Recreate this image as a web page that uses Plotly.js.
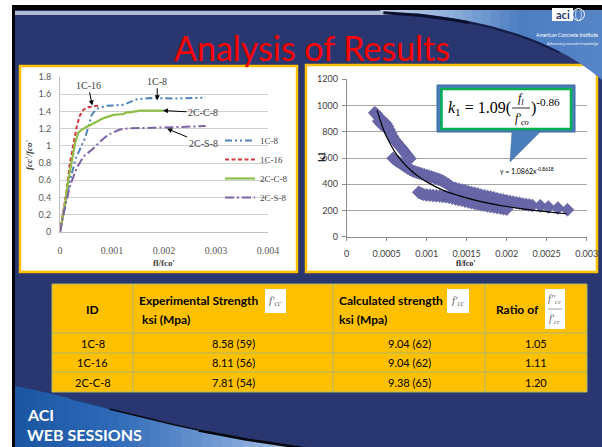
<!DOCTYPE html>
<html><head><meta charset="utf-8">
<script src="https://cdn.plot.ly/plotly-3.0.1.min.js"></script>
<style>html,body{margin:0;padding:0;background:#fff;}#chart{width:602px;height:447px;}</style>
</head><body><div id="chart"></div>
<script>
// ---------- Left chart: fcc'/fco' vs fl/fco' ----------
const seriesNames = ['1C-8', '1C-16', '2C-C-8', '2C-S-8'];
const c1C8x  = [0, 0.0001, 0.0002, 0.0003, 0.0004, 0.00048, 0.000545, 0.00061, 0.0007, 0.0009, 0.00122, 0.00131, 0.00147, 0.00173, 0.0022, 0.0028];
const c1C8y  = [0, 0.32, 0.62, 0.85, 0.98, 1.09, 1.22, 1.36, 1.43, 1.465, 1.477, 1.50, 1.54, 1.555, 1.55, 1.56];
const c1C16x = [0, 0.00006, 0.00013, 0.00019, 0.00026, 0.00032, 0.00038, 0.00045, 0.00054, 0.00064, 0.00078];
const c1C16y = [0, 0.22, 0.49, 0.80, 1.03, 1.22, 1.35, 1.42, 1.45, 1.46, 1.47];
const c2CC8x = [0, 0.0001, 0.00016, 0.000225, 0.00029, 0.00035, 0.00042, 0.00051, 0.00064, 0.00083, 0.00103, 0.00122, 0.00128, 0.00134, 0.00154, 0.00199];
const c2CC8y = [0, 0.34, 0.60, 0.84, 1.03, 1.15, 1.19, 1.22, 1.26, 1.32, 1.36, 1.37, 1.39, 1.39, 1.41, 1.41];
const c2CS8x = [0, 0.0001, 0.0002, 0.00032, 0.00045, 0.00064, 0.00077, 0.00093, 0.00115, 0.00135, 0.0018, 0.0023, 0.0028];
const c2CS8y = [0, 0.30, 0.55, 0.74, 0.875, 0.97, 1.05, 1.13, 1.19, 1.205, 1.21, 1.22, 1.23];
const leftXTickVals = [0, 0.001, 0.002, 0.003, 0.004];
const leftXTickText = ['0', '0.001', '0.002', '0.003', '0.004'];
const leftYTickVals = [0, 0.2, 0.4, 0.6, 0.8, 1, 1.2, 1.4, 1.6, 1.8];
const leftYTickText = ['0', '0.2', '0.4', '0.6', '0.8', '1', '1.2', '1.4', '1.6', '1.8'];

// ---------- Right chart: k1 vs fl/fco' ----------
const bandAx = [0.00035,0.00037,0.00039,0.00041,0.00043,0.00045,0.00047,0.00049,0.00051,0.00053,0.00055,0.00057,0.00059,0.00061,0.00063,0.00065,0.00067,0.00069,0.00071,0.00073,0.00075,0.00077,0.00079,0.00040,0.00043,0.00046,0.00049];
const bandAy = [945,935,920,905,890,880,872,860,840,815,790,765,745,728,715,700,685,672,655,640,625,610,595,880,860,845,830];
const bandBx = [0.00058,0.00061,0.00064,0.00067,0.0007,0.00073,0.00076,0.00079,0.00082,0.00085,0.00088,0.00091,0.00094,0.00097,0.001,0.00103,0.00106,0.00109,0.00112,0.00115,0.00118,0.00121,0.00124,0.00127,0.0013,0.00133];
const bandBy = [598,585,572,560,548,535,523,512,503,496,490,484,478,472,466,461,455,449,443,437,430,420,410,398,385,370];
const bandCx = [0.0009,0.00093,0.00096,0.001,0.00104,0.00108,0.00112,0.00116,0.0012,0.00124,0.00128,0.00132,0.00136,0.0014,0.00144,0.00148,0.00152,0.00156,0.0016,0.00164,0.00168,0.00172,0.00176,0.0018,0.00184,0.00188,0.00192,0.00196,0.002];
const bandCy = [338,330,322,318,316,314,312,310,307,304,300,294,288,282,277,271,265,259,253,248,244,239,235,230,226,222,218,214,210];
const bandDx = [0.00136,0.0014,0.00144,0.00148,0.00152,0.00156,0.0016,0.00164,0.00168,0.00172,0.00176,0.0018,0.00184,0.00188,0.00192,0.00196,0.002,0.00204,0.00208,0.00212,0.00216,0.0022,0.00224,0.00228,0.00232,0.00242,0.00252,0.00264,0.00276];
const bandDy = [369,362,356,350,343,337,331,325,318,312,307,302,296,290,284,279,274,269,264,259,255,250,246,242,238,236,226,218,205];
const trendX = [0.00038,0.00045,0.0005,0.0006,0.0007,0.0008,0.0009,0.001,0.0012,0.0014,0.0016,0.0018,0.002,0.0022,0.0024,0.0026,0.00275];
const trendY = [963,832,760,649,568,507,458,418,355,313,279,252,230,212,197,184,175];
const rightXTickVals = [0, 0.0005, 0.001, 0.0015, 0.002, 0.0025, 0.003];
const rightXTickText = ['0', '0.0005', '0.001', '0.0015', '0.002', '0.0025', '0.003'];
const rightYTickVals = [0, 200, 400, 600, 800, 1000, 1200];

// ---------- Table ----------
const tableIds = ['1C-8', '1C-16', '2C-C-8'];
const expStrength = ['8.58 (59)', '8.11 (56)', '7.81 (54)'];
const calcStrength = ['9.04 (62)', '9.04 (62)', '9.38 (65)'];
const ratios = ['1.05', '1.11', '1.20'];

// ---------- helpers (pixel -> paper) ----------
const W = 602, H = 447;
const X = v => v / W, Y = v => 1 - v / H;
function P(str) {
  const t = str.trim().split(/[\s,]+/); let out = ''; let isX = true;
  for (const tok of t) {
    if (/^[A-Za-z]$/.test(tok)) { out += tok + ' '; isX = true; }
    else { const n = parseFloat(tok); out += (isX ? X(n) : Y(n)).toFixed(5) + (isX ? ',' : ' '); isX = !isX; }
  }
  return out.trim();
}
const shapes = [], annotations = [];
function rect(x0, y0, x1, y1, fill, line, lw, layer) {
  shapes.push({type: 'rect', xref: 'paper', yref: 'paper', x0: X(x0), x1: X(x1), y0: Y(y1), y1: Y(y0),
    fillcolor: fill, line: {color: line || 'rgba(0,0,0,0)', width: lw || 0}, layer: layer || 'below'});
}
function hline(x0, x1, y, color, w, layer) {
  shapes.push({type: 'line', xref: 'paper', yref: 'paper', x0: X(x0), x1: X(x1), y0: Y(y), y1: Y(y), line: {color: color, width: w}, layer: layer || 'above'});
}
function vline(x, y0, y1, color, w, layer) {
  shapes.push({type: 'line', xref: 'paper', yref: 'paper', x0: X(x), x1: X(x), y0: Y(y0), y1: Y(y1), line: {color: color, width: w}, layer: layer || 'above'});
}
function ann(text, x, y, font, opts) {
  annotations.push(Object.assign({text: text, xref: 'paper', yref: 'paper', x: X(x), y: Y(y), showarrow: false,
    xanchor: 'center', yanchor: 'middle', font: font}, opts || {}));
}
const calibri = 'Lato, "Open Sans", sans-serif';
const serif = '"Liberation Serif", "DejaVu Serif", serif';

// ---------- slide artwork geometry ----------
function bez(p, n) {
  const pts = [];
  for (let i = 0; i <= n; i++) {
    const t = i / n, u = 1 - t;
    pts.push([u*u*u*p[0][0] + 3*u*u*t*p[1][0] + 3*u*t*t*p[2][0] + t*t*t*p[3][0],
              u*u*u*p[0][1] + 3*u*u*t*p[1][1] + 3*u*t*t*p[2][1] + t*t*t*p[3][1]]);
  }
  return pts;
}
function yAt(pts, x) {
  for (let i = 1; i < pts.length; i++) {
    if (pts[i][0] >= x) { const p0 = pts[i-1], p1 = pts[i]; const f = (x - p0[0]) / ((p1[0] - p0[0]) || 1); return p0[1] + f * (p1[1] - p0[1]); }
  }
  return pts[pts.length - 1][1];
}
function hexRGB(c) { return [parseInt(c.slice(1,3),16), parseInt(c.slice(3,5),16), parseInt(c.slice(5,7),16)]; }
function mixColor(stops, x) {
  let i = 1; while (i < stops.length - 1 && x > stops[i][0]) i++;
  const s0 = stops[i-1], s1 = stops[i]; const f = Math.max(0, Math.min(1, (x - s0[0]) / (s1[0] - s0[0])));
  const ca = hexRGB(s0[1]), cb = hexRGB(s1[1]);
  return '#' + ca.map((v, k) => Math.round(v + f * (cb[k] - v)).toString(16).padStart(2, '0')).join('');
}
const topPts = bez([[380, 11], [455, 14], [545, 30], [602, 80]], 200);
const botPts = bez([[15, 386], [90, 400], [170, 430], [305, 447]], 200);
const topStops = [[380, '#c0cde2'], [450, '#8fb0dc'], [520, '#4d7ec2'], [602, '#5585c6']];
const botStops = [[15, '#1b56a3'], [110, '#2c68b6'], [210, '#6d97d1'], [305, '#b0c8ea']];

// decorative traces on a hidden full-slide axis pair (pixel coordinates)
const decoTraces = [];
function decoSlices(pts, x0, x1, n, yEdge, stops) {
  const step = (x1 - x0) / n;
  for (let i = 0; i < n; i++) {
    const xa = x0 + i * step, xb = Math.min(x1, xa + step + 0.7);
    const xs = [], ys = [];
    for (let k = 0; k <= 6; k++) { const xx = xa + (xb - xa) * k / 6; xs.push(xx); ys.push(yAt(pts, xx)); }
    xs.push(xb, xa); ys.push(yEdge, yEdge);
    decoTraces.push({x: xs, y: ys, type: 'scatter', mode: 'lines', fill: 'toself', fillcolor: mixColor(stops, (xa + xb) / 2),
      line: {width: 0, color: 'rgba(0,0,0,0)'}, hoverinfo: 'skip', showlegend: false, xaxis: 'x3', yaxis: 'y3'});
  }
}
function decoLine(pts, x0, x1, dy, color, w) {
  const sel = pts.filter(p => p[0] >= x0 && p[0] <= x1);
  decoTraces.push({x: sel.map(p => p[0]), y: sel.map(p => p[1] + dy), type: 'scatter', mode: 'lines',
    line: {width: w, color: color}, hoverinfo: 'skip', showlegend: false, xaxis: 'x3', yaxis: 'y3'});
}
decoSlices(topPts, 380, 602, 24, 10, topStops);
decoLine(topPts, 383, 470, 1.6, '#0b1030', 3);
decoLine(topPts, 468, 560, 1.4, '#141c45', 1.8);
decoSlices(botPts, 15, 305, 28, 447, botStops);
decoLine(botPts, 70, 110, 0.5, 'rgba(5,7,15,0.35)', 1);
decoLine(botPts, 108, 200, 0.7, '#05070f', 1.6);
decoLine(botPts, 198, 306, 1.1, '#05070f', 2.6);

// background frame as inline SVG image
const slideSvg = '<svg xmlns="http://www.w3.org/2000/svg" width="602" height="447" viewBox="0 0 602 447">' +
  '<rect width="602" height="447" fill="#ffffff"/>' +
  '<rect x="12" y="5" width="590" height="442" fill="#000000"/>' +
  '<rect x="15" y="10" width="587" height="437" fill="#29366f"/>' +
  '<rect x="15" y="11" width="400" height="4" fill="#aebbd3"/>' +
  '</svg>';
const slideImage = 'data:image/svg+xml;charset=utf-8,' + encodeURIComponent(slideSvg);

// panels
rect(20, 66, 297, 272, '#ffffff', '#ffc000', 2.5);
rect(306, 65, 597, 272, '#ffffff', '#ffc000', 2.5);

// logo (drawn above the swoosh)
shapes.push({type: 'rect', xref: 'paper', yref: 'paper', x0: X(552), x1: X(573), y0: Y(21), y1: Y(8), fillcolor: '#ffffff', line: {width: 0}, layer: 'above'});
shapes.push({type: 'circle', xref: 'paper', yref: 'paper', x0: X(572.5), x1: X(584.5), y0: Y(20.5), y1: Y(8.5), line: {color: '#ffffff', width: 1}, layer: 'above'});
shapes.push({type: 'circle', xref: 'paper', yref: 'paper', x0: X(575.5), x1: X(581.5), y0: Y(20.5), y1: Y(8.5), line: {color: '#ffffff', width: 0.6}, layer: 'above'});
ann('<b>aci</b>', 562.5, 14.5, {family: calibri, size: 11, color: '#29366f'});
ann('American Concrete Institute', 600, 35, {family: calibri, size: 5, color: '#ffffff'}, {xanchor: 'right'});
ann('<i>Advancing concrete knowledge</i>', 600, 43, {family: calibri, size: 4, color: '#eef2f9'}, {xanchor: 'right'});
ann('<b>ACI</b>', 25, 414, {family: calibri, size: 16, color: '#ffffff'}, {xanchor: 'left'});
ann('<b>WEB SESSIONS</b>', 25, 434, {family: calibri, size: 16, color: '#ffffff'}, {xanchor: 'left'});

// title
ann('Analysis of Results', 312, 47, {family: calibri, size: 34, color: '#ff0000'});

// ---------- table ----------
const colEdges = [52, 133, 333, 485, 587];
const rowEdges = [284, 333, 353, 372, 392];
const gridCol = '#a9b86e';
rect(colEdges[0], rowEdges[0], colEdges[4], rowEdges[4], '#ffc000', gridCol, 1, 'below');
rowEdges.slice(1, -1).forEach(r => hline(colEdges[0], colEdges[4], r, gridCol, 1, 'below'));
colEdges.slice(1, -1).forEach(c => vline(c, rowEdges[0], rowEdges[4], gridCol, 1, 'below'));
const hfont = {family: calibri, size: 12, color: '#000000'};
ann('<b>ID</b>', 92.5, 309, hfont);
ann('<b>Experimental Strength</b>', 137, 300, hfont, {xanchor: 'left'});
ann('<b>ksi (Mpa)</b>', 140, 319, hfont, {xanchor: 'left'});
ann('<b>Calculated strength</b>', 337, 300, hfont, {xanchor: 'left'});
ann('<b>ksi (Mpa)</b>', 337, 319, hfont, {xanchor: 'left'});
ann('<b>Ratio of</b>', 494, 309, hfont, {xanchor: 'left'});
// formula images
const ffont = {family: serif, size: 11, color: '#6a6a6a'};
rect(265, 289, 286, 313, '#ffffff', null, 0, 'above');
ann("<i>f'<sub>cc</sub></i>", 275.5, 301, ffont);
rect(447, 289, 469, 313, '#ffffff', null, 0, 'above');
ann("<i>f'<sub>cc</sub></i>", 458, 301, ffont);
rect(545, 289, 565, 329, '#ffffff', null, 0, 'above');
ann("<i>f''<sub>cc</sub></i>", 555, 299, {family: serif, size: 10, color: '#6a6a6a'});
hline(548, 562, 309, '#8a8a8a', 0.8, 'above');
ann("<i>f'<sub>cc</sub></i>", 555, 319, {family: serif, size: 10, color: '#6a6a6a'});
const dfont = {family: calibri, size: 11, color: '#000000'};
const colCenters = [92.5, 233, 409, 536];
const rowCenters = [343.5, 362.5, 382];
[tableIds, expStrength, calcStrength, ratios].forEach((col, ci) => {
  col.forEach((txt, ri) => ann(txt, colCenters[ci], rowCenters[ri], dfont));
});

// ---------- right chart callout ----------
shapes.push({type: 'rect', xref: 'paper', yref: 'paper', x0: X(437), x1: X(575), y0: Y(132), y1: Y(85), fillcolor: '#4a7ebb', line: {color: '#3a66a0', width: 1}, layer: 'above'});
shapes.push({type: 'path', xref: 'paper', yref: 'paper', path: P('M 512 131 L 541 131 L 510 162 Z'), fillcolor: '#4a7ebb', line: {color: '#3a66a0', width: 0.5}, layer: 'above'});
shapes.push({type: 'rect', xref: 'paper', yref: 'paper', x0: X(441.5), x1: X(571), y0: Y(129), y1: Y(89), fillcolor: '#ffffff', line: {color: '#00b050', width: 2.5}, layer: 'above'});
const mfont = {family: serif, size: 16, color: '#000000'};
ann('<i>k</i><sub>1</sub> = 1.09(', 479, 108, mfont);
ann('<i>f<sub>l</sub></i>', 521, 99, {family: serif, size: 12, color: '#000000'});
hline(512, 530, 108, '#000000', 0.8, 'above');
ann("<i>f'<sub>co</sub></i>", 522, 119, {family: serif, size: 12, color: '#000000'});
ann(')<sup>-0.86</sup>', 545, 106, mfont);
ann('y = 1.0862x<sup>-0.8618</sup>', 527, 170, {family: calibri, size: 7, color: '#000000'});

// ---------- axis titles ----------
ann("<b><i>fcc'/fco'</i></b>", 29, 155, {family: serif, size: 9, color: '#404040'}, {textangle: -90});
ann("<b>fl/fco'</b>", 164, 263, {family: serif, size: 9, color: '#404040'});
ann('<b>k1</b>', 321, 157, {family: serif, size: 10, color: '#202020'}, {textangle: -90});
ann("<b>fl/fco'</b>", 466, 263, {family: serif, size: 8, color: '#202020'});

// ---------- left chart arrow labels ----------
const lfont = {family: serif, size: 10, color: '#404040'};
function arrowAnn(text, x, y, ax, ay) {
  annotations.push({text: text, xref: 'x', yref: 'y', x: x, y: y, ax: ax, ay: ay, showarrow: true,
    arrowhead: 2, arrowsize: 1, arrowwidth: 1, arrowcolor: '#000000', font: lfont, standoff: 0});
}
arrowAnn('1C-16', 0.00062, 1.47, -4, -20);
arrowAnn('1C-8', 0.00187, 1.53, 0, -19);
arrowAnn('2C-C-8', 0.00198, 1.41, 40, 2);
arrowAnn('2C-S-8', 0.00206, 1.20, 36, 15);

// ---------- traces ----------
const traces = [
  {x: c1C8x, y: c1C8y, name: seriesNames[0], type: 'scatter', mode: 'lines', line: {color: '#4f81bd', width: 2, dash: '7px,3px,2px,3px,2px,3px'}, xaxis: 'x', yaxis: 'y'},
  {x: c1C16x, y: c1C16y, name: seriesNames[1], type: 'scatter', mode: 'lines', line: {color: '#d0383c', width: 2, dash: '4px,2.5px'}, xaxis: 'x', yaxis: 'y'},
  {x: c2CC8x, y: c2CC8y, name: seriesNames[2], type: 'scatter', mode: 'lines', line: {color: '#8fbd45', width: 2.2}, xaxis: 'x', yaxis: 'y'},
  {x: c2CS8x, y: c2CS8y, name: seriesNames[3], type: 'scatter', mode: 'lines', line: {color: '#7e62a6', width: 2, dash: '9px,3px,2px,3px'}, xaxis: 'x', yaxis: 'y'},
  {x: bandAx.concat(bandBx, bandCx, bandDx), y: bandAy.concat(bandBy, bandCy, bandDy), type: 'scatter', mode: 'markers',
    marker: {symbol: 'diamond', size: 10, color: '#6b68aa', line: {color: '#5b5899', width: 0.5}}, showlegend: false, xaxis: 'x2', yaxis: 'y2'},
  {x: trendX, y: trendY, type: 'scatter', mode: 'lines', line: {color: '#000000', width: 1.2, shape: 'spline'}, showlegend: false, xaxis: 'x2', yaxis: 'y2'}
].concat(decoTraces);

const layout = {
  width: W, height: H, margin: {l: 0, r: 0, t: 0, b: 0}, paper_bgcolor: '#29366f', plot_bgcolor: 'rgba(0,0,0,0)',
  showlegend: true,
  legend: {x: X(220), y: Y(126), xanchor: 'left', yanchor: 'top', bgcolor: 'rgba(0,0,0,0)', font: {family: serif, size: 9, color: '#404040'}, itemwidth: 30, tracegroupgap: 0},
  images: [{source: slideImage, xref: 'paper', yref: 'paper', x: 0, y: 1, sizex: 1, sizey: 1, xanchor: 'left', yanchor: 'top', sizing: 'stretch', layer: 'below'}],
  xaxis: {domain: [X(60), X(268)], range: [0, 0.004], tickvals: leftXTickVals, ticktext: leftXTickText, showgrid: false, zeroline: false,
    showline: true, linecolor: '#bfbfbf', linewidth: 1, ticks: '', ticklabelstandoff: 9, tickfont: {family: serif, size: 10, color: '#595959'}, fixedrange: true},
  yaxis: {domain: [Y(232), Y(77)], range: [0, 1.8], tickvals: leftYTickVals, ticktext: leftYTickText, showgrid: true, gridcolor: '#cfcfcf', gridwidth: 1, zeroline: false,
    showline: true, linecolor: '#bfbfbf', linewidth: 1, ticks: '', ticklabelstandoff: 6, tickfont: {family: calibri, size: 9, color: '#595959'}, fixedrange: true},
  xaxis2: {domain: [X(346.7), X(586.7)], range: [0, 0.003], tickvals: rightXTickVals, ticktext: rightXTickText, showgrid: false, zeroline: false,
    showline: true, linecolor: '#8c8c8c', linewidth: 1, ticks: 'outside', ticklen: 3, tickcolor: '#8c8c8c', ticklabelstandoff: 5,
    tickfont: {family: calibri, size: 9, color: '#404040'}, anchor: 'y2', fixedrange: true},
  yaxis2: {domain: [Y(236.7), Y(79.3)], range: [0, 1200], tickvals: rightYTickVals, showgrid: true, gridcolor: '#a6a6a6', gridwidth: 1, zeroline: false,
    showline: true, linecolor: '#8c8c8c', linewidth: 1, ticks: 'outside', ticklen: 4, tickcolor: '#8c8c8c', ticklabelstandoff: 2,
    tickfont: {family: calibri, size: 9, color: '#404040'}, anchor: 'x2', fixedrange: true},
  xaxis3: {domain: [0, 1], range: [0, W], visible: false, showgrid: false, zeroline: false, anchor: 'y3', fixedrange: true},
  yaxis3: {domain: [0, 1], range: [H, 0], visible: false, showgrid: false, zeroline: false, anchor: 'x3', fixedrange: true},
  shapes: shapes, annotations: annotations
};
Plotly.newPlot('chart', traces, layout, {staticPlot: true, displayModeBar: false});
</script></body></html>
